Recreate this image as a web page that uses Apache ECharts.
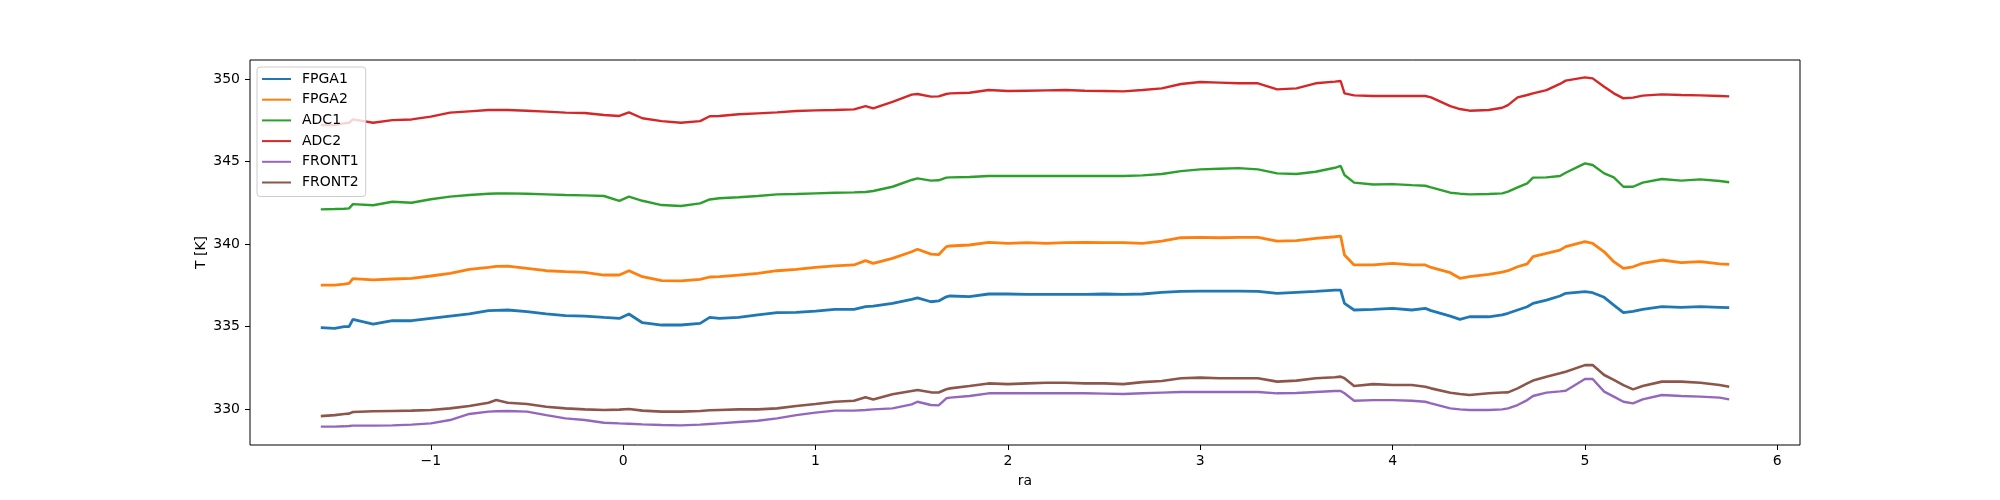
<!DOCTYPE html>
<html>
<head>
<meta charset="utf-8">
<script src="https://cdn.jsdelivr.net/npm/echarts@6/dist/echarts.min.js"></script>
<style>
  html, body { margin: 0; padding: 0; background: #fff; }
  #chart { width: 2000px; height: 500px; }
</style>
</head>
<body>
<div id="chart"></div>
<script>
// ra positions shared by all six sensors
const ra = [
  -1.572, -1.5, -1.45, -1.425, -1.405, -1.3, -1.2, -1.1, -1.0, -0.9, -0.8, -0.7, -0.66, -0.6, -0.5, -0.4, -0.3, -0.2, -0.1, -0.02, 0.03,
  0.1, 0.2, 0.3, 0.4, 0.45, 0.5, 0.6, 0.7, 0.8, 0.9, 1.0,
  1.1, 1.2, 1.26, 1.3, 1.4, 1.5, 1.53, 1.6, 1.64, 1.68, 1.7, 1.8, 1.9,
  2.0, 2.1, 2.2, 2.3, 2.4, 2.5, 2.6, 2.7, 2.8, 2.9, 3.0, 3.1, 3.2, 3.3, 3.4, 3.5, 3.6,
  3.7, 3.73, 3.75, 3.8, 3.9, 4.0, 4.1, 4.17, 4.2, 4.3, 4.35, 4.4, 4.5, 4.57, 4.6, 4.65, 4.7, 4.73, 4.8, 4.87, 4.9,
  5.0, 5.04, 5.1, 5.15, 5.2, 5.25, 5.3, 5.4, 5.5, 5.6, 5.7, 5.75
];

const fpga1 = [
  334.93, 334.89, 334.99, 334.99, 335.43, 335.15, 335.35, 335.35, 335.49, 335.63, 335.76, 335.96, 335.98, 336.0, 335.90, 335.76, 335.66, 335.63, 335.55, 335.49, 335.76,
  335.23, 335.09, 335.09, 335.19, 335.55, 335.49, 335.55, 335.70, 335.84, 335.86, 335.93,
  336.04, 336.04, 336.20, 336.24, 336.40, 336.65, 336.73, 336.50, 336.55, 336.80, 336.85, 336.81, 336.97,
  336.97, 336.95, 336.95, 336.95, 336.95, 336.97, 336.95, 336.97, 337.07, 337.13, 337.15, 337.15, 337.15, 337.13, 337.01, 337.07, 337.13,
  337.21, 337.21, 336.40, 336.0, 336.04, 336.10, 336.0, 336.10, 335.96, 335.63, 335.43, 335.59, 335.59, 335.70, 335.80, 336.0, 336.20, 336.40, 336.60, 336.85, 337.01,
  337.11, 337.05, 336.77, 336.30, 335.84, 335.92, 336.04, 336.20, 336.16, 336.20, 336.16, 336.14
];

const fpga2 = [
  337.51, 337.51, 337.57, 337.62, 337.90, 337.82, 337.88, 337.92, 338.06, 338.22, 338.46, 338.58, 338.64, 338.66, 338.52, 338.38, 338.32, 338.28, 338.12, 338.12, 338.38,
  338.02, 337.78, 337.76, 337.86, 338.0, 338.02, 338.12, 338.22, 338.38, 338.46, 338.58,
  338.68, 338.73, 338.99, 338.83, 339.13, 339.53, 339.68, 339.39, 339.35, 339.84, 339.88, 339.94, 340.10,
  340.04, 340.08, 340.04, 340.08, 340.10, 340.08, 340.08, 340.04, 340.18, 340.38, 340.40, 340.38, 340.40, 340.40, 340.18, 340.20, 340.34,
  340.44, 340.48, 339.33, 338.73, 338.73, 338.83, 338.73, 338.73, 338.58, 338.26, 337.92, 338.02, 338.16, 338.30, 338.38, 338.62, 338.79, 339.23, 339.43, 339.63, 339.84,
  340.14, 340.04, 339.53, 338.93, 338.52, 338.62, 338.83, 339.03, 338.87, 338.93, 338.79, 338.77
];

const adc1 = [
  342.10, 342.12, 342.14, 342.16, 342.42, 342.35, 342.56, 342.50, 342.71, 342.87, 342.97, 343.05, 343.06, 343.07, 343.05, 343.01, 342.97, 342.95, 342.91, 342.62, 342.87,
  342.62, 342.36, 342.30, 342.46, 342.70, 342.77, 342.83, 342.91, 343.01, 343.03, 343.07,
  343.11, 343.13, 343.15, 343.21, 343.47, 343.88, 343.98, 343.84, 343.86, 344.02, 344.04, 344.06, 344.12,
  344.12, 344.12, 344.12, 344.12, 344.12, 344.12, 344.12, 344.16, 344.24, 344.42, 344.52, 344.56, 344.60, 344.52, 344.28, 344.24, 344.38,
  344.62, 344.73, 344.18, 343.72, 343.61, 343.63, 343.57, 343.53, 343.43, 343.11, 343.05, 343.01, 343.03, 343.07, 343.17, 343.43, 343.68, 344.02, 344.04, 344.12, 344.32,
  344.89, 344.79, 344.28, 344.04, 343.47, 343.47, 343.72, 343.94, 343.84, 343.92, 343.82, 343.74
];

const adc2 = [
  347.21, 347.21, 347.31, 347.35, 347.55, 347.35, 347.51, 347.55, 347.72, 347.96, 348.04, 348.12, 348.13, 348.12, 348.08, 348.02, 347.96, 347.94, 347.82, 347.76, 347.98,
  347.62, 347.45, 347.35, 347.45, 347.74, 347.76, 347.86, 347.92, 347.98, 348.06, 348.10,
  348.12, 348.16, 348.36, 348.22, 348.62, 349.05, 349.09, 348.93, 348.95, 349.09, 349.13, 349.17, 349.33,
  349.27, 349.29, 349.31, 349.33, 349.29, 349.27, 349.25, 349.33, 349.43, 349.70, 349.82, 349.78, 349.74, 349.74, 349.37, 349.43, 349.74,
  349.84, 349.88, 349.13, 349.01, 348.97, 348.97, 348.97, 348.97, 348.89, 348.36, 348.18, 348.08, 348.12, 348.26, 348.42, 348.89, 349.03, 349.13, 349.33, 349.70, 349.90,
  350.10, 350.04, 349.53, 349.13, 348.83, 348.87, 348.99, 349.07, 349.03, 349.01, 348.97, 348.95
];

const front1 = [
  328.93, 328.93, 328.95, 328.97, 328.99, 328.99, 329.01, 329.05, 329.13, 329.33, 329.70, 329.84, 329.86, 329.88, 329.84, 329.63, 329.43, 329.33, 329.17, 329.13, 329.11,
  329.07, 329.03, 329.01, 329.05, 329.09, 329.13, 329.21, 329.29, 329.43, 329.63, 329.78,
  329.90, 329.90, 329.94, 329.98, 330.04, 330.28, 330.44, 330.24, 330.22, 330.65, 330.69, 330.79, 330.95,
  330.95, 330.95, 330.95, 330.95, 330.95, 330.93, 330.91, 330.95, 330.99, 331.03, 331.03, 331.03, 331.03, 331.03, 330.95, 330.97, 331.03,
  331.09, 331.09, 330.95, 330.50, 330.54, 330.54, 330.50, 330.44, 330.34, 330.04, 329.98, 329.94, 329.94, 329.98, 330.04, 330.24, 330.54, 330.79, 330.99, 331.07, 331.11,
  331.82, 331.82, 331.05, 330.75, 330.44, 330.34, 330.58, 330.85, 330.79, 330.75, 330.69, 330.58
];

const front2 = [
  329.57, 329.63, 329.70, 329.72, 329.82, 329.86, 329.88, 329.90, 329.94, 330.04, 330.18, 330.38, 330.54, 330.38, 330.30, 330.14, 330.04, 329.98, 329.94, 329.96, 330.0,
  329.90, 329.84, 329.84, 329.88, 329.92, 329.94, 329.98, 329.98, 330.04, 330.18, 330.30,
  330.44, 330.50, 330.71, 330.58, 330.89, 331.09, 331.15, 331.01, 331.0, 331.20, 331.25, 331.39, 331.55,
  331.51, 331.55, 331.59, 331.59, 331.55, 331.55, 331.51, 331.63, 331.70, 331.86, 331.90, 331.86, 331.86, 331.86, 331.66, 331.72, 331.86,
  331.92, 331.96, 331.86, 331.39, 331.51, 331.45, 331.45, 331.35, 331.25, 330.99, 330.91, 330.85, 330.95, 331.0, 331.01, 331.25, 331.55, 331.72, 331.96, 332.16, 332.26,
  332.66, 332.66, 332.06, 331.76, 331.45, 331.19, 331.39, 331.66, 331.66, 331.59, 331.45, 331.35
];

const names = ['FPGA1', 'FPGA2', 'ADC1', 'ADC2', 'FRONT1', 'FRONT2'];
const colors = ['#1f77b4', '#ff7f0e', '#2ca02c', '#d62728', '#9467bd', '#8c564b'];
const widths = [2.8, 2.8, 2.4, 2.4, 2.4, 2.6];
const xTicks = [-1, 0, 1, 2, 3, 4, 5, 6];
const yTicks = [330, 335, 340, 345, 350];

const chart = echarts.init(document.getElementById('chart'));
const font = 'DejaVu Sans';

const seriesVals = [fpga1, fpga2, adc1, adc2, front1, front2];
const series = seriesVals.map(function (vals, k) {
  return {
    name: names[k],
    type: 'line',
    showSymbol: false,
    symbol: 'none',
    lineStyle: { width: widths[k], color: colors[k] },
    itemStyle: { color: colors[k] },
    data: ra.map(function (x, i) { return [x, vals[i]]; })
  };
});

chart.setOption({
  animation: false,
  backgroundColor: '#fff',
  color: colors,
  grid: {
    left: 250, right: 200, top: 60, bottom: 55,
    show: true, borderColor: '#000', borderWidth: 1, backgroundColor: 'transparent'
  },
  legend: {
    orient: 'vertical',
    left: 257, top: 67,
    padding: [5, 7, 7, 5],
    itemWidth: 29, itemHeight: 2, itemGap: 6.7,
    icon: 'rect',
    backgroundColor: 'rgba(255,255,255,0.8)',
    borderColor: '#cccccc', borderWidth: 1, borderRadius: 3,
    textStyle: { color: '#000', fontSize: 14, fontFamily: font, padding: [0, 0, 0, 6], lineHeight: 14 },
    data: names
  },
  xAxis: {
    type: 'value',
    min: -1.94, max: 6.118,
    name: 'ra', nameLocation: 'middle', nameGap: 29, nameMoveOverlap: false,
    nameTextStyle: { color: '#000', fontSize: 14, fontFamily: font },
    axisLine: { show: false },
    splitLine: { show: false },
    axisTick: { show: true, length: 5, lineStyle: { color: '#000' }, customValues: xTicks },
    axisLabel: {
      color: '#000', fontSize: 14, fontFamily: font, margin: 9,
      customValues: xTicks,
      formatter: function (v) { return String(v).replace('-', '\u2212'); }
    }
  },
  yAxis: {
    type: 'value',
    min: 327.818, max: 351.152,
    name: 'T [K]', nameLocation: 'middle', nameGap: 42, nameRotate: 90, nameMoveOverlap: false,
    nameTextStyle: { color: '#000', fontSize: 14, fontFamily: font },
    axisLine: { show: false, onZero: false },
    splitLine: { show: false },
    axisTick: { show: true, length: 5, lineStyle: { color: '#000' }, customValues: yTicks },
    axisLabel: { color: '#000', fontSize: 14, fontFamily: font, margin: 10, customValues: yTicks }
  },
  series: series
});
</script>
</body>
</html>
